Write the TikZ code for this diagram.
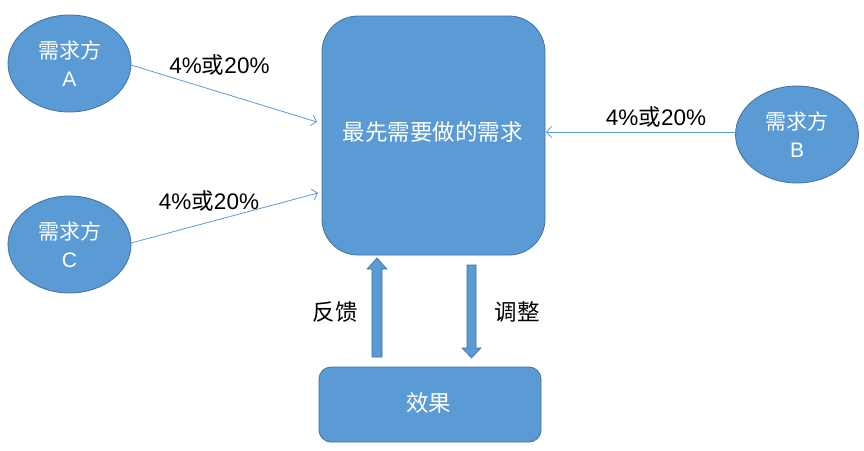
\documentclass[tikz,border=0pt]{standalone}
\usepackage{fontspec}
\setmainfont{Liberation Sans}
\newfontfamily\cjk{Noto Sans CJK SC}
\usetikzlibrary{shapes.geometric,arrows.meta}
\definecolor{fillblue}{HTML}{5B9BD5}
\definecolor{edgeblue}{HTML}{41719C}
\tikzset{
  party/.style={ellipse,draw=edgeblue,line width=0.8pt,fill=fillblue,text=white,
    minimum width=123pt,minimum height=97pt,inner sep=0pt,align=center,
    font=\fontsize{21}{27.5}\selectfont},
  bigbox/.style={rectangle,draw=edgeblue,line width=0.8pt,fill=fillblue,text=white,
    inner sep=0pt,font=\fontsize{22.5}{27}\selectfont},
  conn/.style={draw=fillblue,line width=0.8pt,-{Straight Barb[length=5pt,width=11pt]}},
  lbl/.style={font=\fontsize{22.5}{27}\selectfont,text=black,inner sep=0pt},
  blockarrow/.style={fill=fillblue,draw=edgeblue,line width=0.6pt}
}
\begin{document}
\begin{tikzpicture}[x=1pt,y=-1pt]
\useasboundingbox (0,0) rectangle (864,450);
% parties
\node[party] (A) at (69.5,63.5) {{\cjk 需求方}\\A};
\node[party] (C) at (69.5,244.5) {{\cjk 需求方}\\C};
\node[party] (B) at (797,134.5) {{\cjk 需求方}\\B};
% main box
\node[bigbox,rounded corners=36pt,minimum width=223pt,minimum height=239pt] (M) at (433.5,135.5) {};
\node[lbl,text=white] (Mt) at (432.5,132) {\cjk 最先需要做的需求};
% effect box
\node[bigbox,rounded corners=12pt,minimum width=222pt,minimum height=75pt] (E) at (430,404.5) {};
\node[lbl,text=white] (Et) at (428.5,403) {\cjk 效果};
% connector ends
\coordinate (tA) at (317,122);
\coordinate (tC) at (318,193);
\coordinate (tB) at (546,132);
\coordinate (sA) at (131,65);
\coordinate (sC) at (131,243);
\coordinate (sB) at (736,132);
\draw[conn] (sA) -- (tA);
\draw[conn] (sC) -- (tC);
\draw[conn] (sB) -- (tB);
% labels
\node[lbl] (LA) at (219.5,65) {4\%{\cjk 或}20\%};
\node[lbl] (LC) at (209,201) {4\%{\cjk 或}20\%};
\node[lbl] (LB) at (656,117) {4\%{\cjk 或}20\%};
% block arrows
\draw[blockarrow] (372,357) -- (372,269) -- (367,269) -- (377,258) -- (387,269) -- (382,269) -- (382,357) -- cycle;
\draw[blockarrow] (467,265) -- (467,348) -- (462,348) -- (471.5,358) -- (481,348) -- (476,348) -- (476,265) -- cycle;
\node[lbl] (FB) at (335,312) {\cjk 反馈};
\node[lbl] (TZ) at (517,312) {\cjk 调整};
\end{tikzpicture}
\end{document}
